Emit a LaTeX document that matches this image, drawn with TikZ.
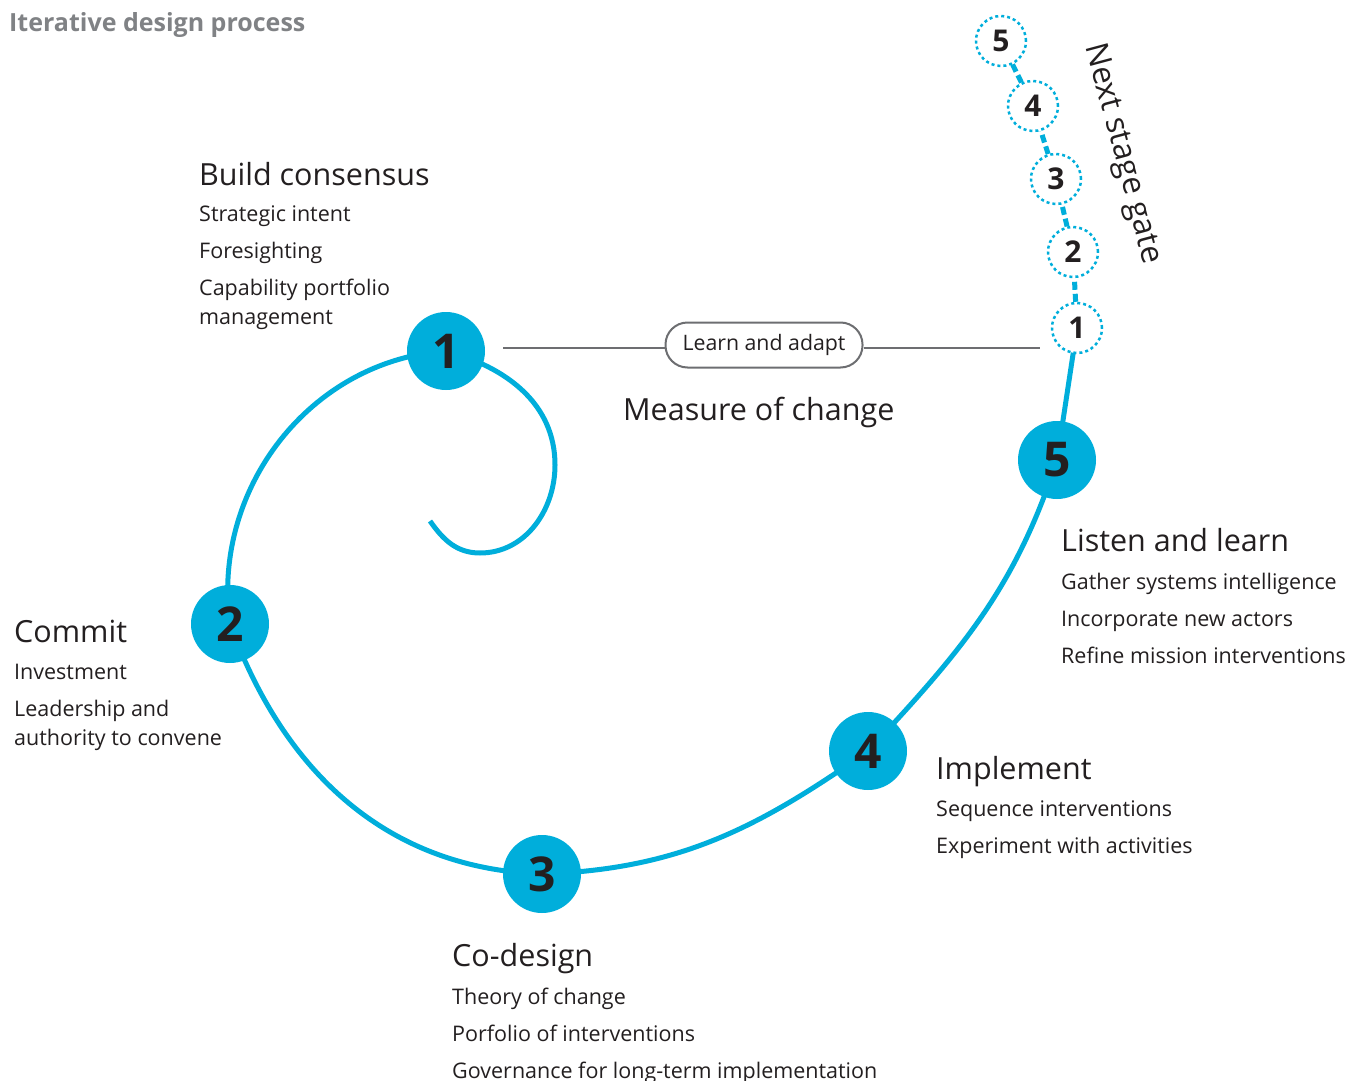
\documentclass[tikz,border=0pt]{standalone}
\usepackage{fontspec}
\setmainfont{Open Sans}
\usetikzlibrary{backgrounds}
\definecolor{mcyan}{RGB}{0,174,219}
\definecolor{mdark}{RGB}{35,31,32}
\definecolor{mgray}{RGB}{128,130,133}
\definecolor{mline}{RGB}{109,110,113}

\begin{document}
\begin{tikzpicture}[x=1pt,y=-1pt]
\tikzstyle{stage}=[circle,fill=mcyan,minimum size=78pt,inner sep=0pt,font=\fontsize{48}{48}\selectfont\bfseries,text=mdark]
\tikzstyle{gate}=[circle,draw=mcyan,fill=white,line width=2.5pt,dash pattern=on 3pt off 3pt,minimum size=50pt,inner sep=0pt,font=\fontsize{30}{30}\selectfont\bfseries,text=mdark]
\tikzstyle{heading}=[anchor=base west,inner sep=0pt,font=\fontsize{30.5}{30.5}\selectfont,text=mdark]
\tikzstyle{items}=[anchor=north west,inner sep=0pt,align=left,font=\fontsize{21.5}{29}\selectfont,text=mdark,execute at begin node=\strut]
\tikzstyle{spiral}=[mcyan,line width=5pt]
\tikzstyle{gatelink}=[mcyan,line width=5pt,dash pattern=on 8pt off 4pt]
\tikzstyle{measure}=[mline,line width=2pt]
\path[use as bounding box] (0,0) rectangle (1352,1081);
\node[anchor=base west,inner sep=0pt,font=\fontsize{25}{25}\selectfont\bfseries,text=mgray] (title) at (9,32) {Iterative design process};
\node[stage] (s1) at (446,351) {1};
\node[stage] (s2) at (230,624) {2};
\node[stage] (s3) at (542,874) {3};
\node[stage] (s4) at (868,751) {4};
\node[stage] (s5) at (1057,460) {5};
\node[gate] (g1) at (1077,328) {1};
\node[gate] (g2) at (1073,252) {2};
\node[gate] (g3) at (1056,179) {3};
\node[gate] (g4) at (1033,106) {4};
\node[gate] (g5) at (1001,41) {5};
\coordinate (tail) at (430,521);
\coordinate (loopb) at (480,553);
\coordinate (loopr) at (555,465);
\begin{pgfonlayer}{background}
\draw[spiral] (tail) to[out=-55,in=180] (loopb) to[out=0,in=-90] (loopr) to[out=90,in=-15] (s1.center) to[out=184,in=98] (s2.center) to[out=-70,in=178] (s3.center) to[out=2,in=-145] (s4.center) to[out=47,in=-108] (s5.center) -- (g1.center);
\end{pgfonlayer}
\draw[gatelink] (g1) -- (g2);
\draw[gatelink] (g2) -- (g3);
\draw[gatelink] (g3) -- (g4);
\draw[gatelink] (g4) -- (g5);
\node[rotate=-75,font=\fontsize{31.5}{31.5}\selectfont,text=mdark] (next) at (1122,154) {Next stage gate};
\coordinate (mL) at (503,348);
\coordinate (mR) at (1040,348);
\node[draw=mline,line width=2pt,rounded corners=22pt,minimum width=197pt,minimum height=45pt,inner sep=0pt,font=\fontsize{21.3}{21.3}\selectfont,text=mdark] (learn) at (764,345) {Learn and adapt};
\draw[measure] (mL) -- (mL -| learn.west);
\draw[measure] (mR -| learn.east) -- (mR);
\node[heading] (measure) at (623,420) {Measure of change};
\node[heading] (h1) at (199,185) {Build consensus};
\node[items] (i1) at (199,206) {Strategic intent\\[8pt]Foresighting\\[8pt]Capability portfolio\\management};
\node[heading] (h2) at (14,642) {Commit};
\node[items] (i2) at (14,664) {Investment\\[8pt]Leadership and\\authority to convene};
\node[heading] (h3) at (452,966) {Co-design};
\node[items] (i3) at (452,988) {Theory of change\\[8pt]Porfolio of interventions\\[8pt]Governance for long-term implementation};
\node[heading] (h4) at (936,779) {Implement};
\node[items] (i4) at (936,801) {Sequence interventions\\[8pt]Experiment with activities};
\node[heading] (h5) at (1061,551) {Listen and learn};
\node[items] (i5) at (1061,573) {Gather systems intelligence\\[8pt]Incorporate new actors\\[8pt]Refine mission interventions};
\end{tikzpicture}
\end{document}
